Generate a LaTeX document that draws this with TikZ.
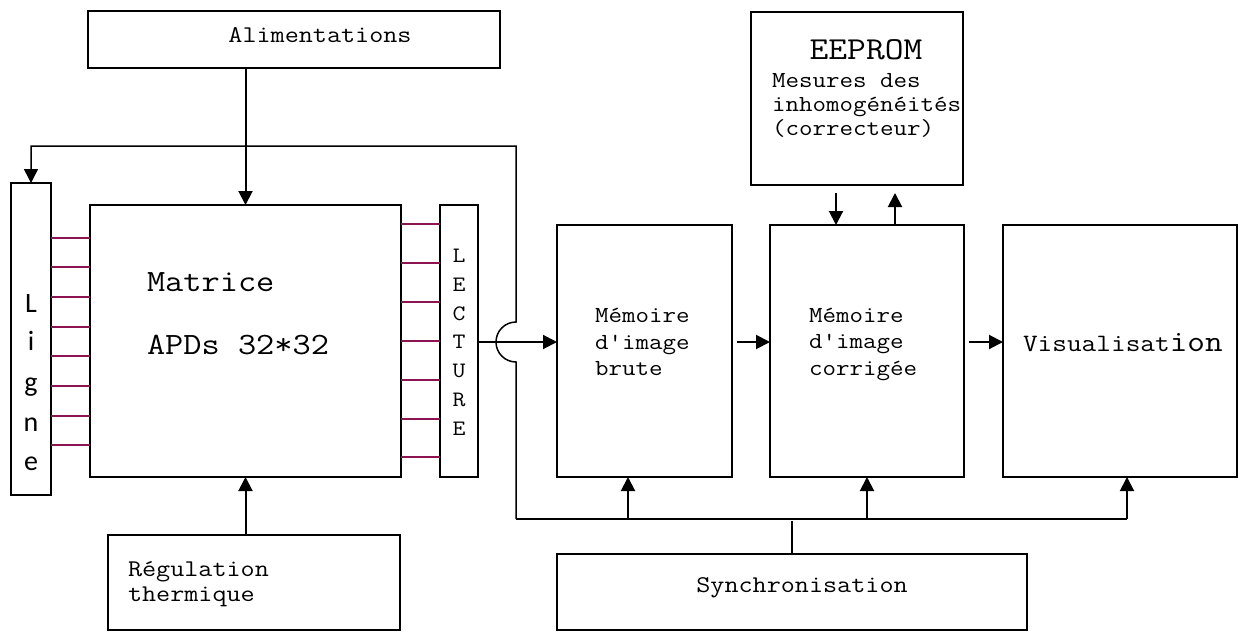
\documentclass[tikz,border=0pt]{standalone}
\usepackage{fontspec}
\setmonofont{Latin Modern Mono}[FakeStretch=1.14]
\newfontfamily\lignefont{Carlito}
\usetikzlibrary{arrows.meta}
\definecolor{fil}{RGB}{140,20,80}

\begin{document}
\begin{tikzpicture}[x=1pt, y=-1pt, every node/.style={outer sep=0pt},
  bloc/.style={draw, line width=2pt, inner sep=0pt},
  cable/.style={draw=fil, line width=1.8pt},
  fleche/.style={line width=2pt, -{Triangle[length=14pt, width=14pt]}},
  mince/.style={line width=1.5pt},
  txt/.style={font=\fontsize{23}{26.5}\selectfont\ttfamily, align=left, inner sep=0pt},
  lettre/.style={font=\fontsize{22}{24}\selectfont\ttfamily, inner sep=0pt, anchor=base},
  lettreL/.style={font=\fontsize{28}{30}\selectfont\lignefont, inner sep=0pt, anchor=base}]
\useasboundingbox (0,0) rectangle (1240,632);

% blocs
\node[bloc, minimum width=412pt, minimum height=57pt] (alim) at (294,39.5) {};
\node[bloc, minimum width=311pt, minimum height=272pt] (matrice) at (245.5,341) {};
\node[bloc, minimum width=40pt, minimum height=312pt] (ligne) at (31,339) {};
\node[bloc, minimum width=38pt, minimum height=272pt] (lecture) at (459,341) {};
\node[bloc, minimum width=175pt, minimum height=252pt] (memb) at (644.5,351) {};
\node[bloc, minimum width=194pt, minimum height=252pt] (memc) at (867,351) {};
\node[bloc, minimum width=234pt, minimum height=252pt] (visu) at (1120,351) {};
\node[bloc, minimum width=212pt, minimum height=173pt] (eeprom) at (857,98.5) {};
\node[bloc, minimum width=292pt, minimum height=95pt] (regul) at (254,582.5) {};
\node[bloc, minimum width=470pt, minimum height=76pt] (sync) at (792,592) {};

% textes
\node[txt, font=\fontsize{24}{27}\selectfont\ttfamily] (alimtxt) at (320,35) {Alimentations};
\node[txt, font=\fontsize{31}{34}\selectfont\ttfamily, anchor=west] (mattxt) at (147,282) {Matrice};
\node[txt, font=\fontsize{31}{34}\selectfont\ttfamily, anchor=west] (apdtxt) at (147,345) {APDs 32*32};
\node[txt, anchor=west] (membtxt) at (595,342) {Mémoire\\d'image\\brute};
\node[txt, anchor=west] (memctxt) at (809,344) {Mémoire\\d'image\\corrigée};
\node[txt, font=\fontsize{25}{28}\selectfont\ttfamily, anchor=west] (visutxt) at (1023,343) {Visualisat{\fontsize{30}{32}\selectfont ion}};
\node[txt, font=\fontsize{32}{34}\selectfont\ttfamily] (eetxt) at (866,50) {EEPROM};
\node[txt, font=\fontsize{23}{24}\selectfont\ttfamily, anchor=west] (mestxt) at (772,105) {Mesures des\\inhomogénéités\\(correcteur)};
\node[txt, font=\fontsize{24}{25}\selectfont\ttfamily, anchor=west] (regtxt) at (128,584) {Régulation\\thermique};
\node[txt, font=\fontsize{24}{27}\selectfont\ttfamily] (synctxt) at (802,588) {Synchronisation};

\node[lettreL] (l1) at (31,312) {L};
\node[lettreL] (l2) at (31,350) {i};
\node[lettreL] (l3) at (31,391) {g};
\node[lettreL] (l4) at (31,431) {n};
\node[lettreL] (l5) at (31,470) {e};

\node[lettre] (c1) at (459,262) {L};
\node[lettre] (c2) at (459,291) {E};
\node[lettre] (c3) at (459,320) {C};
\node[lettre] (c4) at (459,348) {T};
\node[lettre] (c5) at (459,377) {U};
\node[lettre] (c6) at (459,406) {R};
\node[lettre] (c7) at (459,435) {E};

% fils ligne / matrice / lecture
\draw[cable] (ligne.east |- 0,238) -- (matrice.west |- 0,238);
\draw[cable] (ligne.east |- 0,267) -- (matrice.west |- 0,267);
\draw[cable] (ligne.east |- 0,297) -- (matrice.west |- 0,297);
\draw[cable] (ligne.east |- 0,327) -- (matrice.west |- 0,327);
\draw[cable] (ligne.east |- 0,356) -- (matrice.west |- 0,356);
\draw[cable] (ligne.east |- 0,386) -- (matrice.west |- 0,386);
\draw[cable] (ligne.east |- 0,416) -- (matrice.west |- 0,416);
\draw[cable] (ligne.east |- 0,445) -- (matrice.west |- 0,445);

\draw[cable] (matrice.east |- 0,224) -- (lecture.west |- 0,224);
\draw[cable] (matrice.east |- 0,263) -- (lecture.west |- 0,263);
\draw[cable] (matrice.east |- 0,302) -- (lecture.west |- 0,302);
\draw[cable] (matrice.east |- 0,341) -- (lecture.west |- 0,341);
\draw[cable] (matrice.east |- 0,380) -- (lecture.west |- 0,380);
\draw[cable] (matrice.east |- 0,419) -- (lecture.west |- 0,419);
\draw[cable] (matrice.east |- 0,457) -- (lecture.west |- 0,457);

% fleches
\draw[fleche] (alim.south -| matrice.north) -- (matrice.north);
\draw[fleche] (regul.north -| matrice.south) -- (matrice.south);
\draw[fleche] (lecture.east |- 0,342) -- (memb.west |- 0,342);
\draw[fleche] ([xshift=5pt]memb.east |- 0,342) -- (memc.west |- 0,342);
\draw[fleche] ([xshift=5pt]memc.east |- 0,342) -- (visu.west |- 0,342);

\coordinate (eebas) at ([xshift=-21pt]eeprom.south);
\coordinate (eehaut) at ([xshift=38pt]eeprom.south);
\draw[fleche] ([yshift=-8pt]eebas) -- (eebas |- memc.north);
\draw[fleche] (eehaut |- memc.north) -- ([yshift=-8pt]eehaut);

% bus de synchronisation
\coordinate (bus) at (516,519);
\coordinate (busfin) at (1127,519);
\coordinate (retour) at (516,146);
\draw[line width=2pt] (bus) -- (busfin);
\draw[fleche] (bus -| 628,0) -- (memb.south -| 628,0);
\draw[fleche] (bus -| memc.south) -- (memc.south);
\draw[fleche] (busfin) -- (busfin |- visu.south);
\draw[mince] (sync.north) -- ++(0,-33);
\draw[mince, -{Triangle[length=14pt, width=14pt]}] (bus) -- (516,362)
  arc[start angle=270, end angle=90, radius=20pt] -- (retour) -| (ligne.north);
\end{tikzpicture}
\end{document}
